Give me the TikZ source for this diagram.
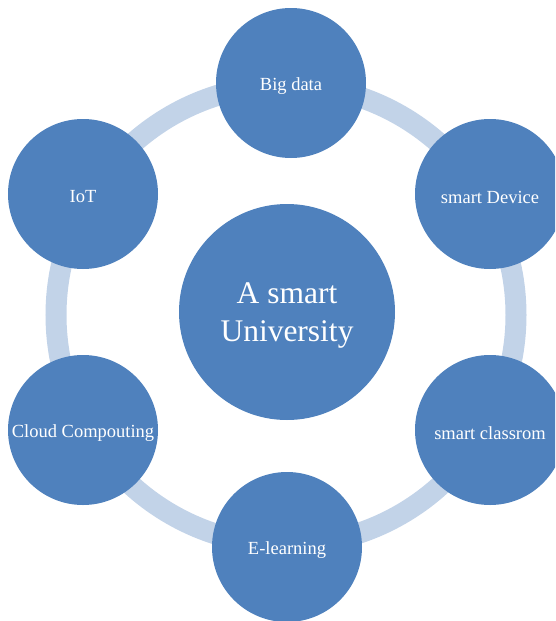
\documentclass[tikz,border=0pt]{standalone}
\usepackage{fontspec}
\setmainfont{Liberation Serif}
\definecolor{nodeblue}{HTML}{4F81BD}
\definecolor{ringblue}{HTML}{C2D3E8}
\newcommand{\dn}[1]{\raisebox{-3pt}[\height][\depth]{#1}}
\begin{document}
\begin{tikzpicture}[x=1pt,y=-1pt,
  small/.style={circle,fill=nodeblue,minimum size=150pt,inner sep=0pt,text=white,font=\fontsize{18.5}{22}\selectfont},
  big/.style={circle,fill=nodeblue,minimum size=216pt,inner sep=0pt,text=white,font=\fontsize{31.5}{38}\selectfont},
  ring/.style={draw=ringblue,line width=21pt}]
\useasboundingbox (0,0) rectangle (555,621);
\clip (0,0) rectangle (555,621);
\coordinate (c) at (286,315);
\draw[ring] (c) circle[radius=230];
\node[big] (center) at (287,312) {\dn{\begin{tabular}{@{}c@{}}A smart\\University\end{tabular}}};
\node[small] (bigdata) at (291,83) {\dn{Big data}};
\node[small] (device) at (490,194) {\dn{smart Device}};
\node[small] (classroom) at (490,430) {\dn{smart classrom}};
\node[small] (elearn) at (287,547) {\dn{E-learning}};
\node[small] (cloud) at (83,430) {\dn{Cloud Compouting}};
\node[small] (iot) at (83,194) {\dn{IoT}};
\end{tikzpicture}
\end{document}
